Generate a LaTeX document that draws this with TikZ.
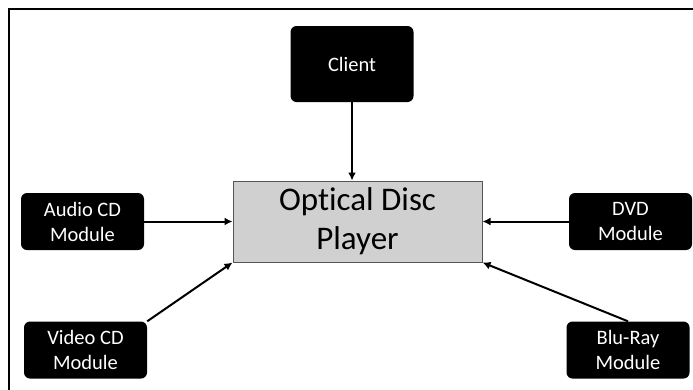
\documentclass[tikz,border=0pt]{standalone}
\usepackage{fontspec}
\setmainfont{Carlito}[Ligatures=NoCommon]
\usepackage{xcolor}
\usetikzlibrary{arrows.meta}
\definecolor{playergray}{RGB}{208,208,208}
\definecolor{playerline}{RGB}{85,85,85}

\begin{document}
\begin{tikzpicture}[>={Latex[length=8pt,width=8pt]}, x=1pt, y=-1pt,
  module/.style={fill=black, text=white, rounded corners=6pt, minimum width=123pt,
    minimum height=57pt, align=center, inner sep=0pt, font=\fontsize{20.5}{25}\selectfont},
  player/.style={draw=playerline, fill=playergray, line width=1pt, minimum width=249pt,
    minimum height=81pt, align=center, inner sep=0pt, font=\fontsize{33}{39}\selectfont},
  feed/.style={->, line width=2pt}]
  \useasboundingbox (0,0) rectangle (693,389);
  \draw[line width=2pt] (9,400) -- (9,9) -- (700,9);
  \node[player] (player) at (357.5,221.5) {Optical Disc\\Player};
  \node[module, minimum height=76pt] (client) at (352,64) {Client};
  \node[module] (audio) at (82.5,221.5) {Audio CD\\Module};
  \node[module] (video) at (85.5,350) {Video CD\\Module};
  \node[module] (dvd) at (630.5,221.5) {DVD\\Module};
  \node[module] (bluray) at (628,350) {Blu-Ray\\Module};
  % everything points at the player
  \draw[feed] (client.south) -- (client.south |- player.north);
  \draw[feed] (audio.east) -- (player.west);
  \draw[feed] (video.north east) -- (player.south west);
  \draw[feed] (dvd.west) -- (player.east);
  \draw[feed] (bluray.north) -- (player.south east);
\end{tikzpicture}
\end{document}
